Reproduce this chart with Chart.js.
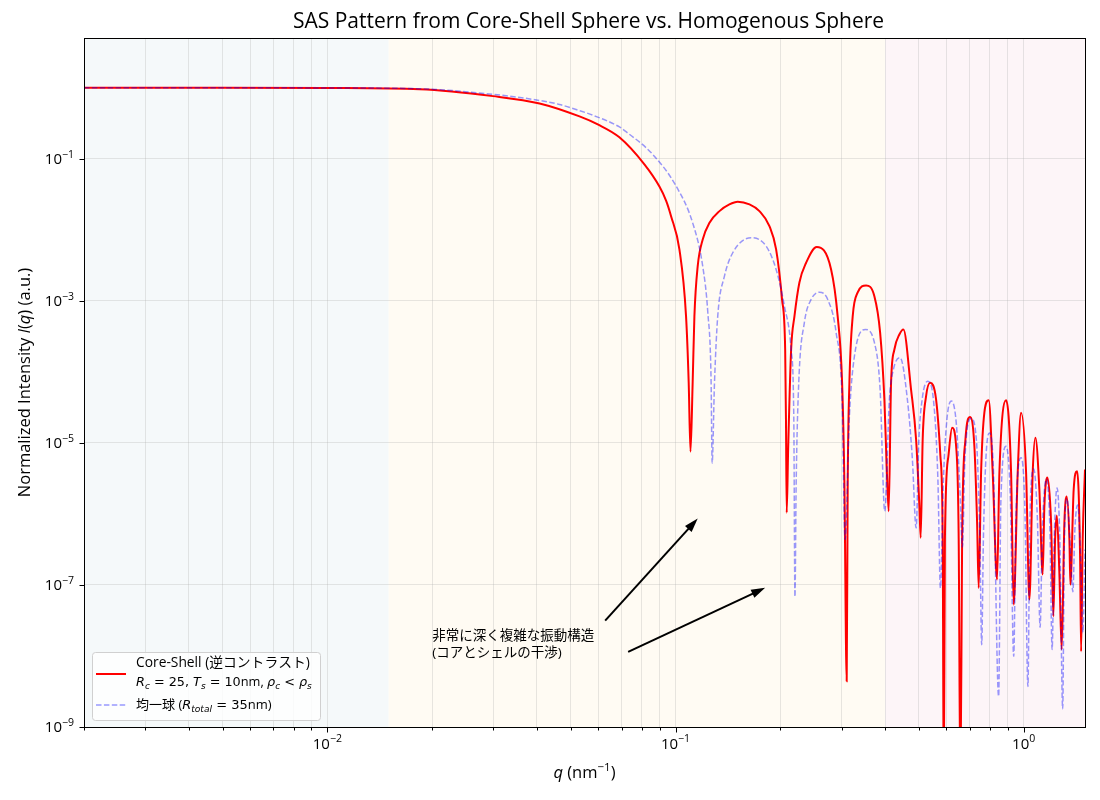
<!DOCTYPE html>
<html>
<head>
<meta charset="utf-8">
<script src="https://cdn.jsdelivr.net/npm/chart.js@4.4.1/dist/chart.umd.min.js"></script>
<style>
  html, body { margin: 0; padding: 0; background: #fff; }
</style>
</head>
<body>
<canvas id="myChart" width="1100" height="800"></canvas>
<script>
// values (q in nm^-1, normalized intensity)
const coreShellQ = [0.002, 0.005, 0.01, 0.0184, 0.0299, 0.0407, 0.053, 0.0598, 0.069, 0.0814, 0.0899, 0.094, 0.0971, 0.1026, 0.1072, 0.1091, 0.1104, 0.112, 0.1133, 0.1158, 0.1197, 0.1252, 0.1337, 0.1428, 0.1509, 0.1631, 0.1742, 0.1861, 0.1945, 0.2023, 0.2065, 0.2076, 0.2086, 0.2106, 0.2148, 0.2196, 0.2269, 0.2372, 0.2545, 0.2798, 0.2922, 0.3009, 0.3055, 0.3102, 0.3123, 0.3158, 0.3228, 0.3336, 0.3526, 0.3725, 0.3869, 0.398, 0.4041, 0.4095, 0.416, 0.4252, 0.4395, 0.4513, 0.4748, 0.4909, 0.5017, 0.506, 0.5127, 0.5244, 0.5385, 0.5603, 0.5765, 0.5854, 0.5893, 0.5939, 0.6078, 0.6229, 0.6396, 0.6506, 0.658, 0.6655, 0.6802, 0.7016, 0.7217, 0.7348, 0.7426, 0.7545, 0.771, 0.7936, 0.8147, 0.8386, 0.8516, 0.8902, 0.92, 0.9361, 0.9612, 0.9829, 1.016, 1.0385, 1.0614, 1.0804, 1.1093, 1.1338, 1.1467, 1.1697, 1.1986, 1.217, 1.2308, 1.2453, 1.266, 1.2855, 1.3088, 1.3289, 1.353, 1.3617, 1.3918, 1.4235, 1.4521, 1.4618, 1.4773, 1.5];
const coreShellI = [1.0, 1.0, 0.99, 0.95, 0.76, 0.6, 0.394, 0.304, 0.2, 0.0831, 0.0405, 0.0255, 0.0155, 0.00528, 6.07e-4, 7.07e-5, 7.5e-6, 7.07e-5, 6.07e-4, 3.07e-3, 7.3e-3, 0.01255, 0.01828, 0.0227, 0.0248, 0.0227, 0.01828, 0.01124, 5.28e-3, 1.04e-3, 2.06e-4, 2.13e-5, 1.04e-6, 8.04e-6, 2.06e-4, 6.07e-4, 1.81e-3, 3.43e-3, 5.7e-3, 2.76e-3, 6.07e-4, 7.07e-5, 2.76e-6, 4.4e-9, 2.76e-6, 7.07e-5, 6.07e-4, 1.31e-3, 1.64e-3, 1.16e-3, 3.58e-4, 4.07e-5, 4.68e-6, 1.09e-6, 7.07e-5, 2.06e-4, 3.35e-4, 3.94e-4, 5.63e-5, 1.11e-5, 1.28e-6, 4.6e-7, 1.11e-5, 4.53e-5, 7.0e-5, 4.07e-5, 6.48e-6, 4.35e-7, 1e-10, 4.35e-7, 6.48e-6, 1.63e-5, 8.96e-6, 4.35e-7, 1e-10, 4.35e-7, 1.11e-5, 2.32e-5, 8.96e-6, 7.54e-7, 9.07e-8, 3.82e-6, 2.67e-5, 3.98e-5, 3.82e-6, 1.19e-7, 3.82e-6, 3.98e-5, 3.82e-6, 5.28e-8, 3.82e-6, 2.65e-5, 3.82e-6, 6.21e-8, 3.82e-6, 1.18e-5, 2.2e-6, 1.4e-7, 1.28e-6, 3.25e-6, 7.54e-7, 3.61e-8, 4.35e-7, 9.46e-7, 1.49e-7, 1.23e-8, 7.54e-7, 1.75e-6, 4.35e-7, 1.01e-7, 2.2e-6, 3.98e-6, 2.53e-7, 1.16e-8, 4.35e-7, 4.2e-6];

const sphereQ = [0.002, 0.005, 0.01, 0.0184, 0.0299, 0.0407, 0.0464, 0.053, 0.0578, 0.069, 0.0721, 0.086, 0.1004, 0.112, 0.1197, 0.1238, 0.1265, 0.1274, 0.1294, 0.1322, 0.1382, 0.146, 0.1649, 0.1821, 0.1945, 0.2055, 0.2148, 0.2186, 0.2203, 0.2221, 0.2259, 0.2345, 0.2451, 0.259, 0.2736, 0.2892, 0.3009, 0.3069, 0.3158, 0.3265, 0.351, 0.3725, 0.3869, 0.3989, 0.4114, 0.4225, 0.4416, 0.4634, 0.479, 0.4909, 0.5, 0.5118, 0.53, 0.5504, 0.567, 0.5765, 0.5881, 0.6018, 0.62, 0.6408, 0.6559, 0.6668, 0.6778, 0.7062, 0.7312, 0.7484, 0.7575, 0.766, 0.7786, 0.7972, 0.8185, 0.8472, 0.8601, 0.8902, 0.9158, 0.9361, 0.9497, 0.9829, 1.0079, 1.0283, 1.0418, 1.0683, 1.095, 1.1146, 1.1315, 1.162, 1.1893, 1.2067, 1.2235, 1.2469, 1.2701, 1.2942, 1.3088, 1.3322, 1.3572, 1.3845, 1.4028, 1.4291, 1.4549, 1.4791, 1.5];
const sphereI = [1.0, 1.0, 0.99, 0.965, 0.805, 0.66, 0.58, 0.475, 0.41, 0.28, 0.24, 0.115, 0.0411, 0.0125, 3.07e-3, 6.84e-4, 7.79e-5, 5.2e-6, 7.07e-5, 6.07e-4, 2.22e-3, 4.74e-3, 7.72e-3, 5.87e-3, 2.76e-3, 8.39e-4, 2.06e-4, 2.37e-5, 6.8e-8, 2.76e-6, 7.07e-5, 4.95e-4, 1.04e-3, 1.32e-3, 1.04e-3, 3.58e-4, 4.07e-5, 4.35e-7, 2.37e-5, 1.66e-4, 3.94e-4, 2.59e-4, 5.63e-5, 1.09e-6, 4.07e-5, 1.08e-4, 1.58e-4, 4.07e-5, 5.82e-6, 6.35e-7, 1.11e-5, 4.35e-5, 7.37e-5, 4.07e-5, 3.04e-6, 9.07e-8, 3.04e-6, 2.13e-5, 3.88e-5, 1.81e-5, 2.2e-6, 3.41e-7, 5.82e-6, 2.2e-5, 1.11e-5, 4.35e-7, 1.44e-8, 4.35e-7, 5.82e-6, 1.38e-5, 4.21e-6, 2.7e-9, 1.59e-6, 8.96e-6, 1.59e-6, 9.87e-9, 8.31e-7, 6.15e-6, 1.15e-6, 3.73e-9, 8.31e-7, 4.28e-6, 8.31e-7, 2.54e-8, 6.01e-7, 3.09e-6, 6.01e-7, 1.23e-8, 4.35e-7, 2.32e-6, 4.35e-7, 1.81e-9, 4.35e-7, 1.64e-6, 4.35e-7, 8.04e-8, 6.01e-7, 1.33e-6, 3.14e-7, 2.13e-8, 3.14e-7];

// axes
const xMin = 0.002, xMax = 1.5;
const yMin = 1e-9, yMax = 5;
const xTickValues = [0.002, 0.003, 0.004, 0.005, 0.006, 0.007, 0.008, 0.009, 0.01, 0.02, 0.03, 0.04, 0.05, 0.06, 0.07, 0.08, 0.09, 0.1, 0.2, 0.3, 0.4, 0.5, 0.6, 0.7, 0.8, 0.9, 1];
const xMajorValues = [0.01, 0.1, 1];
const xMajorExp = ['\u22122', '\u22121', '0'];
const yTickValues = [1e-9, 1e-7, 1e-5, 1e-3, 1e-1];
const yMajorExp = ['\u22129', '\u22127', '\u22125', '\u22123', '\u22121'];

// shaded q-regions
const regionEdges = [0.002, 0.015, 0.4, 1.5];
const regionColors = ['#f5f9fa', '#fffbf3', '#fdf5f8'];

// annotation
const noteText = ['非常に深く複雑な振動構造', '(コアとシェルの干渉)'];
const noteAt = [0.02, 1e-8];
const arrowFrom = [[0.0628, 3.14e-8], [0.0731, 1.14e-8]];
const arrowTo = [[0.1158, 8.6e-7], [0.1809, 9.1e-8]];

const FONT = '"Open Sans", "Noto Sans CJK JP", "DejaVu Sans", sans-serif';
const MATH = '"DejaVu Sans", sans-serif';

function drawRich(ctx, parts, x, y, size, align) {
  const fonts = parts.map(p => (p.i ? 'italic ' : '') + ((p.s || p.u) ? size * 0.7 : size) + 'px ' + (p.m ? MATH : FONT));
  let w = 0;
  const ws = parts.map((p, k) => { ctx.font = fonts[k]; const m = ctx.measureText(p.t).width; w += m; return m; });
  let cx = align === 'center' ? x - w / 2 : (align === 'right' ? x - w : x);
  ctx.textAlign = 'left';
  ctx.textBaseline = 'alphabetic';
  parts.forEach((p, k) => {
    ctx.font = fonts[k];
    const dy = p.s ? size * 0.22 : (p.u ? -size * 0.42 : 0);
    ctx.fillText(p.t, cx, y + dy);
    cx += ws[k];
  });
}

function drawArrow(ctx, x0, y0, x1, y1) {
  const a = Math.atan2(y1 - y0, x1 - x0), L = 14, W = 4.5;
  ctx.beginPath();
  ctx.moveTo(x0, y0);
  ctx.lineTo(x1 - L * 0.8 * Math.cos(a), y1 - L * 0.8 * Math.sin(a));
  ctx.stroke();
  ctx.beginPath();
  ctx.moveTo(x1, y1);
  ctx.lineTo(x1 - L * Math.cos(a) + W * Math.sin(a), y1 - L * Math.sin(a) - W * Math.cos(a));
  ctx.lineTo(x1 - L * Math.cos(a) - W * Math.sin(a), y1 - L * Math.sin(a) + W * Math.cos(a));
  ctx.closePath();
  ctx.fill();
}

const decor = {
  id: 'decor',
  beforeDraw(chart) {
    const { ctx, chartArea: a, scales: { x } } = chart;
    ctx.save();
    ctx.fillStyle = '#fff';
    ctx.fillRect(0, 0, chart.width, chart.height);
    for (let i = 0; i < regionColors.length; i++) {
      const x0 = x.getPixelForValue(regionEdges[i]);
      const x1 = x.getPixelForValue(regionEdges[i + 1]);
      ctx.fillStyle = regionColors[i];
      ctx.fillRect(x0, a.top, x1 - x0, a.bottom - a.top);
    }
    ctx.restore();
  },
  afterDatasetsDraw(chart) {
    const { ctx, scales: { x, y } } = chart;
    ctx.save();
    ctx.strokeStyle = '#000';
    ctx.fillStyle = '#000';
    ctx.lineWidth = 2;
    for (let i = 0; i < arrowFrom.length; i++) {
      drawArrow(ctx,
        x.getPixelForValue(arrowFrom[i][0]), y.getPixelForValue(arrowFrom[i][1]),
        x.getPixelForValue(arrowTo[i][0]), y.getPixelForValue(arrowTo[i][1]));
    }
    const tx = x.getPixelForValue(noteAt[0]), ty = y.getPixelForValue(noteAt[1]);
    ctx.font = '13.5px ' + FONT;
    ctx.textAlign = 'left';
    ctx.textBaseline = 'middle';
    ctx.fillText(noteText[0], tx, ty - 20);
    ctx.fillText(noteText[1], tx, ty - 3);
    ctx.restore();
  },
  afterDraw(chart) {
    const { ctx, chartArea: a, scales: { x, y } } = chart;
    ctx.save();
    // frame
    ctx.strokeStyle = '#000';
    ctx.lineWidth = 1;
    ctx.strokeRect(a.left + 0.5, a.top + 0.5, a.right - a.left, a.bottom - a.top);
    // tick marks
    ctx.beginPath();
    xTickValues.forEach(v => {
      const px = Math.round(x.getPixelForValue(v)) + 0.5;
      const len = xMajorValues.includes(v) ? 5 : 3;
      ctx.moveTo(px, a.bottom + 0.5);
      ctx.lineTo(px, a.bottom + 0.5 + len);
    });
    yTickValues.forEach(v => {
      const py = Math.round(y.getPixelForValue(v)) + 0.5;
      ctx.moveTo(a.left + 0.5, py);
      ctx.lineTo(a.left + 0.5 - 5, py);
    });
    ctx.stroke();
    // tick labels
    ctx.fillStyle = '#000';
    xMajorValues.forEach((v, i) => {
      drawRich(ctx, [{ t: '10' }, { t: xMajorExp[i], u: 1 }], x.getPixelForValue(v), a.bottom + 21.5, 15, 'center');
    });
    yTickValues.forEach((v, i) => {
      drawRich(ctx, [{ t: '10' }, { t: yMajorExp[i], u: 1 }], a.left - 10, y.getPixelForValue(v) + 5.4, 15, 'right');
    });
    // title and axis titles
    ctx.font = '21px ' + FONT;
    ctx.textAlign = 'center';
    ctx.textBaseline = 'middle';
    ctx.fillText('SAS Pattern from Core-Shell Sphere vs. Homogenous Sphere', (a.left + a.right) / 2 + 4, 22);
    drawRich(ctx, [{ t: 'q', i: 1 }, { t: ' (nm' }, { t: '\u22121', u: 1 }, { t: ')' }], (a.left + a.right) / 2, 778, 16.5, 'center');
    ctx.save();
    ctx.translate(24, (a.top + a.bottom) / 2);
    ctx.rotate(-Math.PI / 2);
    drawRich(ctx, [{ t: 'Normalized Intensity ' }, { t: 'I', i: 1 }, { t: '(' }, { t: 'q', i: 1 }, { t: ') (a.u.)' }], 0, 6, 16.5, 'center');
    ctx.restore();
    // legend
    const lx = a.left + 8, ly = a.bottom - 75, lw = 228, lh = 68;
    ctx.fillStyle = 'rgba(255,255,255,0.8)';
    ctx.strokeStyle = '#d0d0d0';
    ctx.beginPath();
    ctx.roundRect(lx + 0.5, ly + 0.5, lw, lh, 3);
    ctx.fill();
    ctx.stroke();
    ctx.lineWidth = 2;
    ctx.strokeStyle = '#ff0000';
    ctx.beginPath();
    ctx.moveTo(lx + 4, ly + 22); ctx.lineTo(lx + 34, ly + 22);
    ctx.stroke();
    ctx.lineWidth = 1.5;
    ctx.strokeStyle = 'rgba(0,0,255,0.4)';
    ctx.setLineDash([5.5, 2.4]);
    ctx.beginPath();
    ctx.moveTo(lx + 4, ly + 53); ctx.lineTo(lx + 34, ly + 53);
    ctx.stroke();
    ctx.setLineDash([]);
    ctx.fillStyle = '#000';
    const tx = lx + 44;
    drawRich(ctx, [{ t: 'Core-Shell (逆コントラスト)' }], tx, ly + 15, 13.8, 'left');
    drawRich(ctx, [{ t: 'R', i: 1, m: 1 }, { t: 'c', i: 1, s: 1, m: 1 }, { t: ' = 25, ', m: 1 }, { t: 'T', i: 1, m: 1 }, { t: 's', i: 1, s: 1, m: 1 },
      { t: ' = 10', m: 1 }, { t: 'nm, ' }, { t: 'ρ', i: 1, m: 1 }, { t: 'c', i: 1, s: 1, m: 1 }, { t: ' < ', m: 1 }, { t: 'ρ', i: 1, m: 1 }, { t: 's', i: 1, s: 1, m: 1 }], tx, ly + 34, 12.8, 'left');
    drawRich(ctx, [{ t: '均一球 (' }, { t: 'R', i: 1, m: 1 }, { t: 'total', i: 1, s: 1, m: 1 }, { t: ' = 35', m: 1 }, { t: 'nm)' }], tx, ly + 57, 13, 'left');
    ctx.restore();
  }
};

const gridColor = 'rgba(176,176,176,0.3)';

new Chart(document.getElementById('myChart'), {
  type: 'line',
  data: {
    datasets: [{
      label: 'Core-Shell (逆コントラスト)',
      data: coreShellQ.map((q, i) => ({ x: q, y: coreShellI[i] })),
      borderColor: '#ff0000',
      borderWidth: 2,
      pointRadius: 0,
      cubicInterpolationMode: 'monotone',
      order: 1
    }, {
      label: '均一球',
      data: sphereQ.map((q, i) => ({ x: q, y: sphereI[i] })),
      borderColor: 'rgba(0,0,255,0.4)',
      borderWidth: 1.5,
      borderDash: [5.5, 2.4],
      pointRadius: 0,
      cubicInterpolationMode: 'monotone',
      order: 0
    }]
  },
  options: {
    responsive: false,
    animation: false,
    devicePixelRatio: 1,
    layout: { padding: { top: 38, right: 15, left: 0, bottom: 0 } },
    plugins: { legend: { display: false }, title: { display: false }, tooltip: { enabled: false } },
    scales: {
      x: {
        type: 'logarithmic',
        min: xMin,
        max: xMax,
        afterBuildTicks: s => { s.ticks = xTickValues.map(v => ({ value: v })); },
        afterFit: s => { s.height = 73; },
        ticks: { display: false },
        grid: { color: gridColor, lineWidth: 1, drawTicks: false },
        border: { display: false }
      },
      y: {
        type: 'logarithmic',
        min: yMin,
        max: yMax,
        afterBuildTicks: s => { s.ticks = yTickValues.map(v => ({ value: v })); },
        afterFit: s => { s.width = 84; },
        ticks: { display: false },
        grid: { color: gridColor, lineWidth: 1, drawTicks: false },
        border: { display: false }
      }
    }
  },
  plugins: [decor]
});
</script>
</body>
</html>
